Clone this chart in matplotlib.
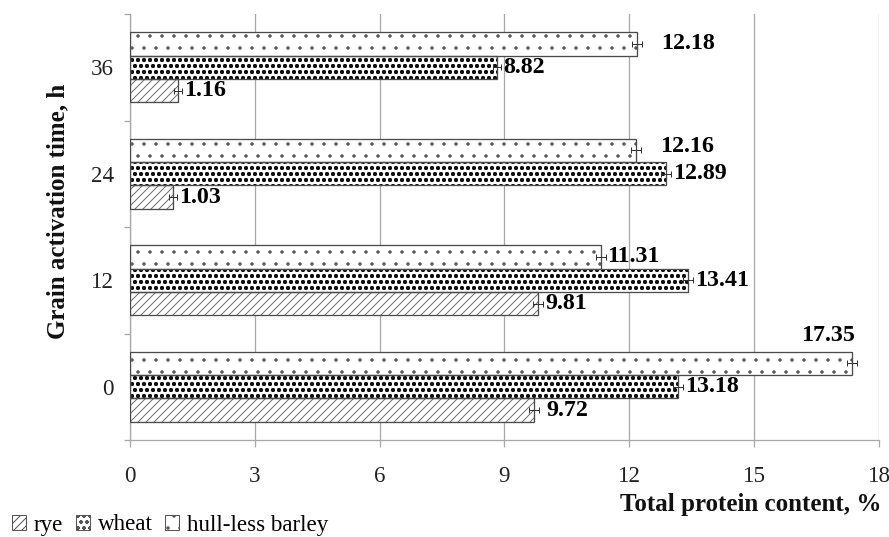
import numpy as np
import matplotlib.pyplot as plt
from matplotlib.patches import Patch

# grain activation time (h) and total protein content (%)
hours = ['0', '12', '24', '36']
rye = [9.72, 9.81, 1.03, 1.16]
wheat = [13.18, 13.41, 12.89, 8.82]
barley = [17.35, 11.31, 12.16, 12.18]
rye_err = [0.12, 0.12, 0.1, 0.1]
wheat_err = [0.12, 0.12, 0.12, 0.1]
barley_err = [0.12, 0.12, 0.12, 0.12]
series_names = ['rye', 'wheat', 'hull-less barley']

plt.rcParams['font.family'] = ['Liberation Serif', 'DejaVu Serif']

DPI = 72
fig = plt.figure(figsize=(889 / DPI, 537 / DPI), dpi=DPI)
ax = fig.add_axes([130 / 889, 1 - 440 / 537, 749 / 889, 426 / 537])

y = np.arange(len(hours))
h = 0.22
edge = '#4a4a4a'

# (values, errors, offset, hatch, hatch colour, hatch width)
styles = [
    (rye, rye_err, -h, '///', '#707070', 1.0),
    (wheat, wheat_err, 0.0, 'oo', '#111111', 1.6),
    (barley, barley_err, h, '.', '#555555', 1.0),
]

# label nudges in points
nudges = {
    (0, 0): (5, 0),
    (2, 2): (17, 4), (2, 3): (17, 0),
}

for si, (vals, err, off, hatch, hcol, hlw) in enumerate(styles):
    with plt.rc_context({'hatch.linewidth': hlw}):
        ax.barh(y + off, vals, height=h, color='white', edgecolor=hcol,
                linewidth=0, hatch=hatch, zorder=2)
    ax.barh(y + off, vals, height=h, fill=False, edgecolor=edge,
            linewidth=1.3, zorder=3)
    ax.errorbar(vals, y + off, xerr=err, fmt='none', ecolor='#333333',
                elinewidth=1, capsize=3, capthick=1, zorder=4)
    for gi, v in enumerate(vals):
        if si == 2 and gi == 0:
            ax.annotate(f'{v:.2f}', xy=(v, y[gi] + off), xytext=(3, 28),
                        textcoords='offset points', ha='right', va='center',
                        fontsize=24, fontweight='bold', zorder=5)
            continue
        dx, dy = nudges.get((si, gi), (0, 0))
        ax.annotate(f'{v:.2f}', xy=(v + err[gi], y[gi] + off),
                    xytext=(2 + dx, dy), textcoords='offset points',
                    ha='left', va='center', fontsize=24, fontweight='bold',
                    zorder=5)

ax.set_xlim(0, 18)
ax.set_ylim(-0.5, len(hours) - 0.5)
ax.set_xticks(np.arange(0, 19, 3))
ax.set_yticks(y)
ax.set_yticklabels(hours)
ax.set_yticks(np.arange(-0.5, len(hours), 1), minor=True)

grey = '#a8a8a8'
ax.set_axisbelow(True)
ax.xaxis.grid(True, color=grey, linewidth=1.3, zorder=0)
for s in ['top', 'right']:
    ax.spines[s].set_visible(False)
for s in ['left', 'bottom']:
    ax.spines[s].set_color(grey)
    ax.spines[s].set_linewidth(1.3)

ax.tick_params(axis='x', length=7, width=1.3, color=grey, pad=19,
               labelsize=23, labelcolor='#222222')
ax.tick_params(axis='y', which='major', length=0, pad=16,
               labelsize=23, labelcolor='#222222')
ax.tick_params(axis='y', which='minor', length=6, width=1.3, color=grey)

fig.text(882 / 889, 1 - 504 / 537, 'Total protein content, %', ha='right',
         va='center', fontsize=25, fontweight='bold', color='#111111')
fig.text(58 / 889, 1 - 211 / 537, 'Grain activation time, h', rotation=90,
         ha='center', va='center', fontsize=25, fontweight='bold',
         color='#111111')

handles = []
for (_, _, _, hatch, hcol, _), name in zip(styles, series_names):
    handles.append(Patch(facecolor='white', edgecolor='#555555', hatch=hatch,
                         linewidth=1, label=name))
fig.legend(handles=handles, loc='center left',
           bbox_to_anchor=(12 / 889, 1 - 525 / 537), ncol=3, frameon=False,
           prop={'family': 'Liberation Serif', 'size': 23},
           handlelength=0.6, handleheight=0.6,
           handletextpad=0.35, columnspacing=0.55, borderpad=0,
           borderaxespad=0)

fig.savefig('out.png', dpi=DPI)
